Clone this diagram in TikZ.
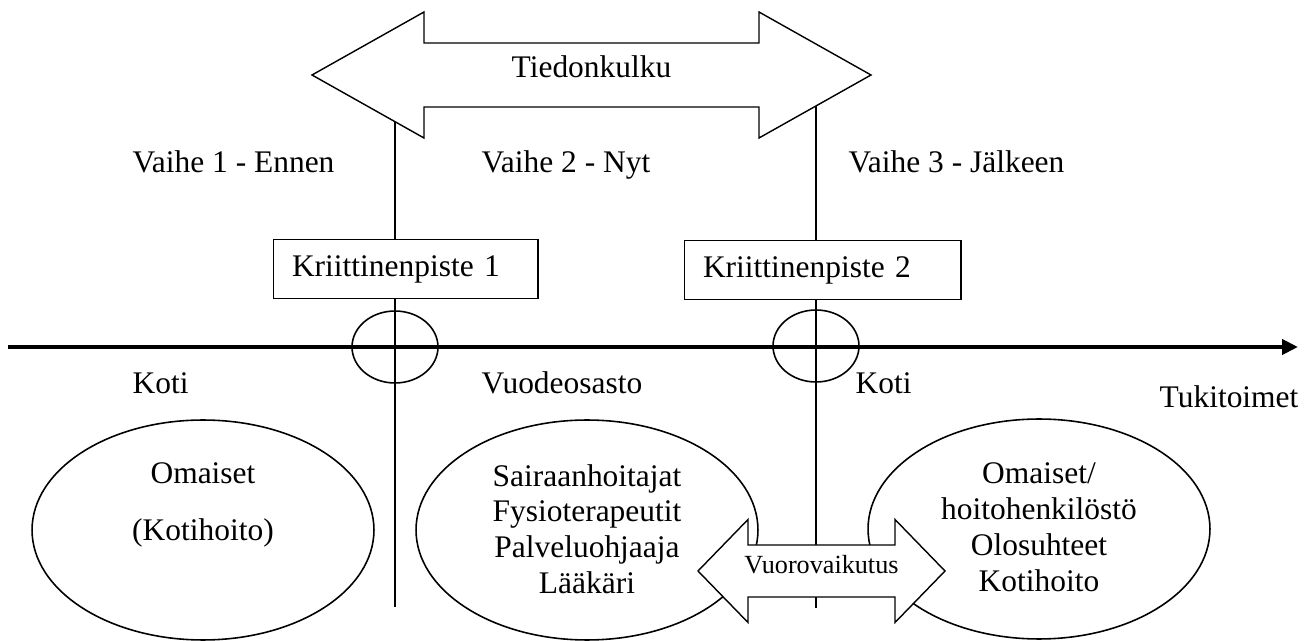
\documentclass[tikz,border=0pt]{standalone}
\usepackage{fontspec}
\setmainfont{Liberation Serif}
\usepackage{tikz}
\usetikzlibrary{shapes.geometric, arrows.meta}
\newcommand{\nuoli}[7]{
\filldraw[fill=white] ({#1},{#5})--({#2},{#5-#7})--({#2},{#5-#6})--({#3},{#5-#6})--({#3},{#5-#7})--({#4},{#5})
 --({#3},{#5+#7})--({#3},{#5+#6})--({#2},{#5+#6})--({#2},{#5+#7})--cycle;
}
\tikzset{
kbox/.style={draw, fill=white, line width=0.6pt, minimum height=1.17cm, align=left, inner xsep=0.38cm},
oval/.style={draw, ellipse, line width=0.9pt, minimum width=6.84cm, minimum height=4.4cm, inner sep=0pt},
rengas/.style={draw, ellipse, line width=0.9pt, minimum width=1.72cm, minimum height=1.44cm, inner sep=0pt},
teksti/.style={anchor=base west, inner sep=0pt},
}

\begin{document}
\begin{tikzpicture}[x=0.02cm, y=-0.02cm, line width=0.8pt, font=\fontsize{17.9}{20.4}\selectfont]
\useasboundingbox (0,0) rectangle (1312,641);

\coordinate (v1a) at (395,100);
\coordinate (v1b) at (395,607);
\coordinate (v2a) at (816,100);
\coordinate (v2b) at (816,608);
\draw (v1a)--(v1b);
\draw (v2a)--(v2b);

\node[rengas] (r1) at (395,347) {};
\node[rengas] (r2) at (816,346) {};

\node[kbox, text width=4.54cm] (kp1) at (405.5,269) {Kriittinenpiste 1};
\node[kbox, text width=4.78cm] (kp2) at (822.5,270) {Kriittinenpiste 2};

\coordinate (ak0) at (8,347);
\coordinate (ak1) at (1298,347);
\draw[line width=2.3pt, -{Triangle[length=0.32cm,width=0.3cm]}] (ak0)--(ak1);

\node[teksti] (vaihe1) at (132,173) {Vaihe 1 - Ennen};
\node[teksti] (vaihe2) at (481,173) {Vaihe 2 - Nyt};
\node[teksti] (vaihe3) at (848,173) {Vaihe 3 - Jälkeen};

\node[teksti] (koti1) at (132,394) {Koti};
\node[teksti] (osasto) at (481,394) {Vuodeosasto};
\node[teksti] (koti2) at (855,394) {Koti};
\node[teksti] (tuki) at (1159,408) {Tukitoimet};

\node[oval] (e1) at (203,530) {};
\node[oval] (e2) at (587,530) {};
\node[oval] (e3) at (1039,529) {};

\node[anchor=north, align=center, inner sep=0pt] (e1t) at (203,462) {Omaiset\\[11.9pt](Kotihoito)};
\node[anchor=north, align=center, inner sep=0pt] (e2t) at (587,463.5) {Sairaanhoitajat\\Fysioterapeutit\\Palveluohjaaja\\Lääkäri};
\node[anchor=north, align=center, inner sep=0pt] (e3t) at (1039,462) {Omaiset/\\hoitohenkilöstö\\Olosuhteet\\Kotihoito};

\nuoli{312}{424}{759}{871}{75}{32}{63}
\node[anchor=base, inner sep=0pt] (tieto) at (591.5,78) {Tiedonkulku};

\nuoli{698}{748}{895}{945}{571}{26}{51.5}
\node[anchor=base, inner sep=0pt, font=\fontsize{14.9}{17}\selectfont] (vuoro) at (821.5,574) {Vuorovaikutus};

\end{tikzpicture}
\end{document}
